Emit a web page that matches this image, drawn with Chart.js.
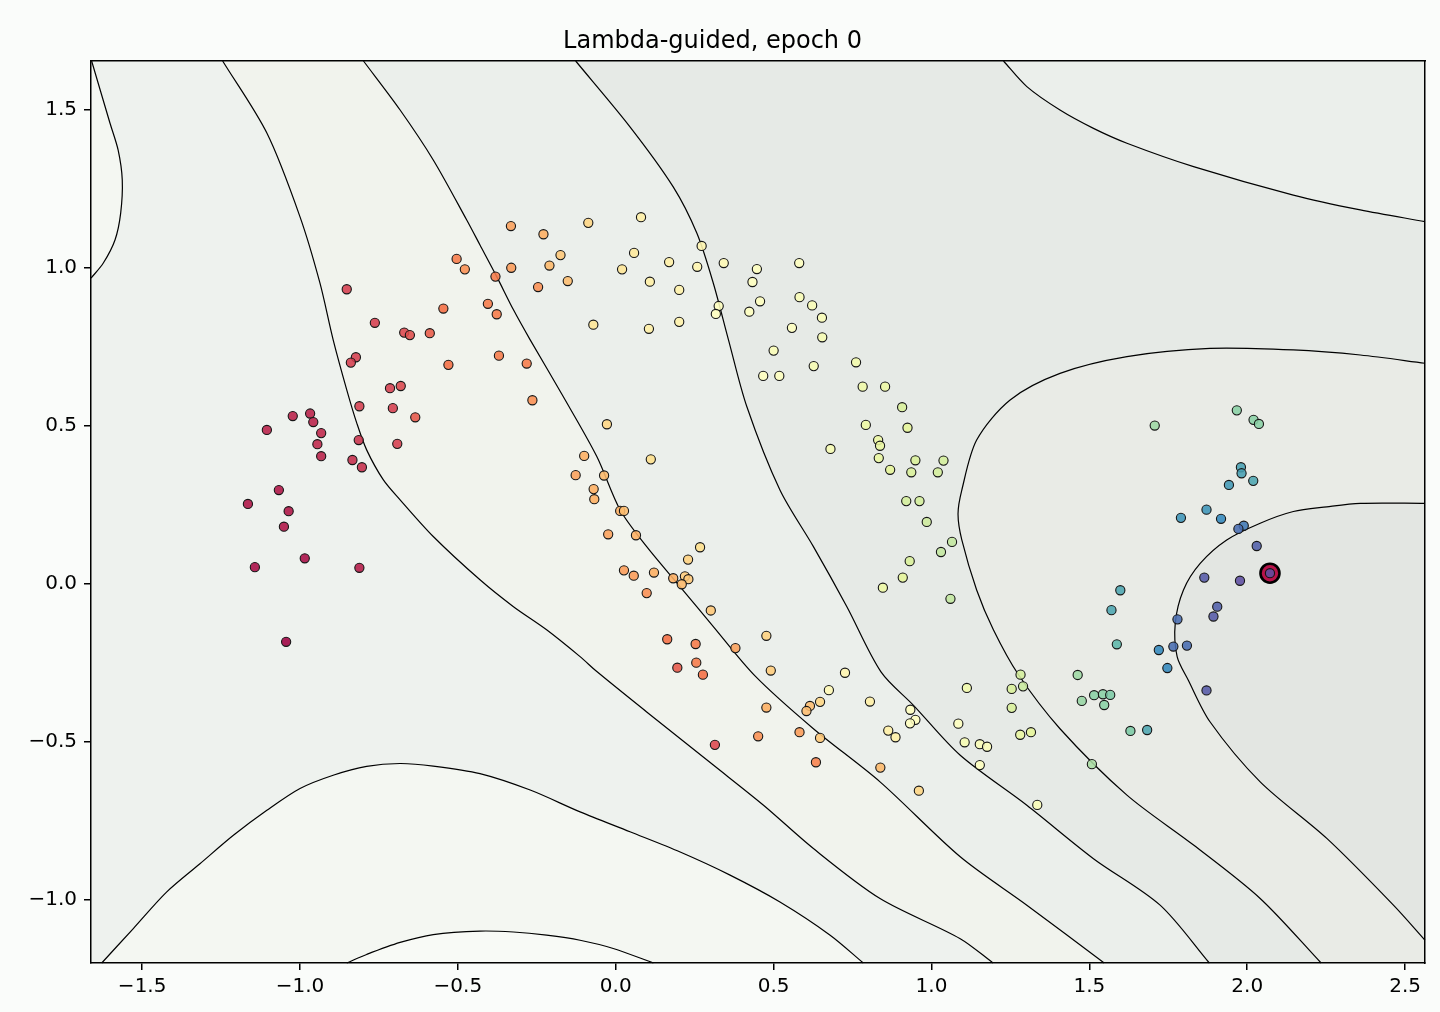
<!DOCTYPE html>
<html>
<head>
<meta charset="utf-8">
<script src="https://cdn.jsdelivr.net/npm/chart.js@4.4.1/dist/chart.umd.min.js"></script>
<style>
html,body{margin:0;padding:0;background:#fafcfa;}
canvas{display:block;}
</style>
</head>
<body>
<canvas id="c" width="1440" height="1012"></canvas>
<script>
// ---------------- data ----------------
const chartTitle = 'Lambda-guided, epoch 0';
const xTicks = [-1.5, -1.0, -0.5, 0.0, 0.5, 1.0, 1.5, 2.0, 2.5];
const yTicks = [-1.0, -0.5, 0.0, 0.5, 1.0, 1.5];
const xLimits = [-1.662, 2.563];
const yLimits = [-1.199, 1.654];

// scatter points: x, y, colour parameter (0..1 on Spectral)
const ptX = [
-0.823,-0.839,-0.530,-0.715,-0.681,-0.812,-0.706,-0.635,-1.023,-0.968,
-0.958,-1.105,-0.933,-0.945,-0.814,-0.692,-0.933,-0.834,-0.804,-1.067,
-1.165,-1.036,-1.051,-0.985,-1.143,-0.812,-1.044,-0.852,-0.763,-0.670,
-0.652,-0.589,-0.546,-0.504,-0.478,
-0.332,-0.229,-0.087,0.080,-0.175,-0.210,-0.331,-0.381,-0.246,-0.152,
0.058,0.020,0.169,0.108,0.201,0.258,0.272,0.342,0.447,0.433,
0.581,-0.405,-0.377,-0.071,0.105,0.201,0.326,0.317,0.423,0.457,
0.582,0.622,0.653,0.558,0.654,
0.500,0.467,0.518,0.627,0.761,0.782,0.853,0.907,0.792,0.924,
0.831,0.837,0.833,0.680,0.869,0.936,0.949,1.038,1.020,0.920,
0.962,0.985,1.065,1.030,0.931,0.909,0.846,1.060,
-0.370,-0.282,-0.264,-0.028,0.111,-0.100,-0.127,-0.037,-0.070,-0.068,
0.014,0.026,-0.024,0.064,0.267,0.229,0.026,0.057,0.121,0.182,
0.219,0.230,0.209,0.098,0.301,0.163,0.253,0.379,0.477,0.195,
0.255,0.276,0.491,0.726,
0.675,0.477,0.615,0.604,0.647,0.805,0.933,0.949,0.932,0.863,
0.886,0.451,0.582,0.647,0.314,0.634,0.838,0.960,1.085,
1.112,1.254,1.290,1.515,1.543,1.566,1.476,1.547,1.254,1.871,
1.105,1.153,1.176,1.281,1.315,1.630,1.683,1.153,1.508,1.335,
1.282,1.463,
1.967,1.707,2.020,2.037,1.980,1.982,1.942,2.019,1.871,1.790,
1.917,1.989,1.972,2.030,1.864,1.977,1.598,1.905,1.570,1.893,
1.779,1.587,1.720,1.766,1.809,1.747,2.072
];
const ptY = [
0.717,0.700,0.693,0.619,0.626,0.562,0.556,0.527,0.531,0.539,
0.512,0.487,0.477,0.442,0.455,0.443,0.404,0.392,0.369,0.297,
0.253,0.230,0.181,0.081,0.053,0.051,-0.183,0.932,0.826,0.795,
0.787,0.793,0.871,1.028,0.995,
1.132,1.106,1.142,1.160,1.040,1.007,1.000,0.972,0.939,0.958,
1.047,0.995,1.018,0.956,0.930,1.003,1.069,1.015,0.996,0.955,
1.015,0.886,0.853,0.820,0.807,0.829,0.879,0.854,0.861,0.894,
0.907,0.881,0.842,0.810,0.780,
0.738,0.658,0.658,0.689,0.701,0.624,0.624,0.559,0.503,0.494,
0.455,0.437,0.398,0.427,0.361,0.353,0.391,0.390,0.353,0.262,
0.262,0.196,0.133,0.101,0.072,0.020,-0.012,-0.047,
0.722,0.697,0.581,0.505,0.394,0.405,0.344,0.343,0.300,0.268,
0.231,0.231,0.157,0.154,0.116,0.077,0.043,0.026,0.036,0.018,
0.024,0.015,-0.001,-0.029,-0.084,-0.175,-0.190,-0.203,-0.164,-0.265,
-0.249,-0.287,-0.274,-0.281,
-0.336,-0.391,-0.386,-0.402,-0.373,-0.372,-0.398,-0.430,-0.441,-0.464,
-0.485,-0.482,-0.469,-0.487,-0.509,-0.564,-0.581,-0.654,-0.442,
-0.329,-0.332,-0.324,-0.352,-0.349,-0.351,-0.370,-0.383,-0.392,-0.337,
-0.501,-0.507,-0.515,-0.477,-0.469,-0.465,-0.462,-0.573,-0.570,-0.699,
-0.287,-0.288,
0.549,0.501,0.519,0.506,0.369,0.350,0.313,0.326,0.235,0.209,
0.206,0.184,0.174,0.120,0.020,0.010,-0.020,-0.072,-0.083,-0.103,
-0.112,-0.191,-0.209,-0.198,-0.195,-0.266,0.034
];
const ptT = [
.10,.10,.20,.10,.12,.10,.10,.15,.05,.05,
.05,.05,.06,.06,.08,.10,.05,.07,.07,.03,
.03,.03,.03,.02,.02,.04,.00,.10,.10,.12,
.13,.16,.20,.22,.25,
.28,.30,.38,.45,.35,.32,.27,.22,.25,.33,
.43,.42,.45,.45,.46,.47,.47,.48,.50,.50,
.50,.22,.22,.42,.45,.46,.50,.50,.50,.50,
.52,.52,.52,.50,.53,
.52,.50,.50,.53,.55,.56,.57,.62,.57,.60,
.57,.58,.58,.53,.60,.62,.62,.63,.63,.63,
.63,.64,.66,.66,.62,.60,.57,.66,
.22,.22,.25,.38,.40,.30,.28,.32,.30,.30,
.30,.33,.28,.30,.40,.37,.27,.27,.30,.30,
.36,.35,.32,.25,.35,.20,.22,.28,.37,.15,
.22,.20,.36,.47,
.48,.30,.33,.33,.38,.45,.50,.50,.50,.45,
.45,.25,.27,.35,.12,.23,.32,.38,.50,
.55,.62,.65,.75,.75,.77,.73,.75,.62,.98,
.53,.52,.52,.58,.60,.77,.85,.50,.70,.52,
.63,.72,
.75,.72,.75,.75,.86,.86,.87,.85,.88,.88,
.90,.93,.95,.97,.98,1.0,.85,.97,.85,.98,
.95,.82,.90,.95,.95,.90,1.0
];

// highlighted point
const markX = [2.072];
const markY = [0.034];

// contour lines [x, y]
const contourTopLeftArc = [[-1.660,1.654],[-1.602,1.458],[-1.576,1.372],[-1.563,1.278],[-1.568,1.173],[-1.586,1.088],[-1.623,1.015],[-1.662,0.967]];
const contourHump = [[-1.628,-1.199],[-1.528,-1.090],[-1.422,-0.974],[-1.317,-0.885],[-1.211,-0.795],[-1.105,-0.716],[-1.000,-0.647],[-0.895,-0.605],[-0.789,-0.577],[-0.683,-0.568],[-0.578,-0.576],[-0.430,-0.600],[-0.271,-0.652],[-0.113,-0.721],[0.045,-0.784],[0.204,-0.848],[0.362,-0.921],[0.520,-1.006],[0.679,-1.111],[0.784,-1.199]];
const contourBottomArc = [[-0.852,-1.199],[-0.789,-1.172],[-0.683,-1.134],[-0.578,-1.109],[-0.430,-1.098],[-0.324,-1.101],[-0.219,-1.111],[-0.113,-1.127],[-0.008,-1.153],[0.119,-1.199]];
const contourBand1 = [[-1.245,1.654],[-1.105,1.426],[-1.000,1.161],[-0.937,0.952],[-0.895,0.772],[-0.852,0.614],[-0.820,0.508],[-0.789,0.424],[-0.736,0.329],[-0.683,0.266],[-0.578,0.150],[-0.430,0.013],[-0.324,-0.072],[-0.219,-0.145],[-0.113,-0.230],[-0.059,-0.278],[0.098,-0.405],[0.309,-0.573],[0.468,-0.700],[0.626,-0.837],[0.837,-0.995],[1.091,-1.122],[1.195,-1.199]];
const contourBand2 = [[-0.799,1.654],[-0.683,1.499],[-0.578,1.341],[-0.472,1.151],[-0.430,1.072],[-0.377,0.972],[-0.324,0.867],[-0.271,0.772],[-0.166,0.592],[-0.060,0.403],[0.014,0.234],[0.098,0.118],[0.204,-0.009],[0.309,-0.135],[0.441,-0.291],[0.626,-0.458],[0.837,-0.626],[1.091,-0.863],[1.302,-1.016],[1.547,-1.199]];
const contourBand3 = [[-0.127,1.654],[0.045,1.446],[0.182,1.256],[0.257,1.109],[0.309,0.951],[0.357,0.772],[0.415,0.561],[0.520,0.297],[0.626,0.118],[0.732,-0.072],[0.840,-0.278],[0.943,-0.384],[1.091,-0.542],[1.302,-0.700],[1.513,-0.869],[1.724,-1.016],[1.880,-1.199]];
const contourTopRight = [[1.228,1.654],[1.302,1.573],[1.407,1.499],[1.513,1.441],[1.619,1.394],[1.830,1.320],[2.146,1.230],[2.358,1.183],[2.563,1.146]];
const contourOuterLoop = [[2.563,0.698],[2.358,0.724],[2.146,0.740],[1.882,0.745],[1.619,0.719],[1.407,0.666],[1.249,0.582],[1.143,0.455],[1.096,0.297],[1.084,0.221],[1.096,0.139],[1.143,-0.019],[1.196,-0.145],[1.274,-0.285],[1.407,-0.458],[1.619,-0.668],[1.830,-0.826],[2.041,-0.995],[2.234,-1.199]];
const contourInnerLoop = [[2.563,0.255],[2.358,0.255],[2.252,0.244],[2.146,0.229],[2.041,0.192],[1.935,0.139],[1.851,0.065],[1.798,-0.019],[1.772,-0.124],[1.778,-0.230],[1.813,-0.304],[1.882,-0.436],[2.041,-0.626],[2.252,-0.805],[2.463,-1.016],[2.563,-1.127]];

// ---------------- styling ----------------
const FONT = "'DejaVu Sans', 'Liberation Sans', sans-serif";
const regionColors = {
  base: '#eef2ee', r0: '#f8faf6', r1: '#f4f7f2', r3: '#f1f3ed',
  r4: '#ebefeb', r5: '#e6eae6', r6: '#e9ebe6', r7: '#e3e6e2'
};
const spectralStops = ['#9e0142','#d53e4f','#f46d43','#fdae61','#fee08b','#ffffbf','#e6f598','#abdda4','#66c2a5','#3288bd','#5e4fa2'];
function hexToRgb(h){ return [parseInt(h.slice(1,3),16),parseInt(h.slice(3,5),16),parseInt(h.slice(5,7),16)]; }
function spectral(t, a){
  t = Math.max(0, Math.min(1, t));
  const p = t * (spectralStops.length - 1);
  const i = Math.min(Math.floor(p), spectralStops.length - 2);
  const f = p - i;
  const c0 = hexToRgb(spectralStops[i]), c1 = hexToRgb(spectralStops[i+1]);
  const c = c0.map((v,k)=>Math.round(v + (c1[k]-v)*f));
  return `rgba(${c[0]},${c[1]},${c[2]},${a})`;
}

// polygons built from contour lines and the outside of the axes
const OX0 = xLimits[0]-0.3, OX1 = xLimits[1]+0.3, OY0 = yLimits[0]-0.3, OY1 = yLimits[1]+0.3;
const P = a => a.map(([x,y]) => ({x, y}));
const first = a => a[0], last = a => a[a.length-1];
function rightOfBand(l){ return P(l).concat([{x:last(l)[0],y:OY0},{x:OX1,y:OY0},{x:OX1,y:OY1},{x:first(l)[0],y:OY1}]); }
function aboveTopRight(l){ return P(l).concat([{x:OX1,y:last(l)[1]},{x:OX1,y:OY1},{x:first(l)[0],y:OY1}]); }
function insideOuterLoop(l){ return P(l).concat([{x:last(l)[0],y:OY0},{x:OX1,y:OY0},{x:OX1,y:first(l)[1]}]); }
function insideInnerLoop(l){ return P(l).concat([{x:OX1,y:last(l)[1]},{x:OX1,y:first(l)[1]}]); }
function aboveBottom(l){ return P(l).concat([{x:last(l)[0],y:OY0},{x:first(l)[0],y:OY0}]); }
function insideLeft(l){ return P(l).concat([{x:OX0,y:last(l)[1]},{x:OX0,y:OY1},{x:first(l)[0],y:OY1}]); }

let ord = 1000;
function fillSet(data, color){
  return {type:'line', data, fill:'shape', backgroundColor:color, borderColor:'rgba(0,0,0,0)', borderWidth:0.01,
          pointRadius:0, tension:0, order:ord--, clip:0};
}
function lineSet(arr){
  return {type:'line', data:P(arr), fill:false, borderColor:'#000', borderWidth:1.2, pointRadius:0,
          tension:0.3, order:100, clip:1};
}

const datasets = [
  fillSet(rightOfBand(contourBand1), regionColors.r3),
  fillSet(rightOfBand(contourBand2), regionColors.r4),
  fillSet(rightOfBand(contourBand3), regionColors.r5),
  fillSet(aboveTopRight(contourTopRight), regionColors.r4),
  fillSet(insideOuterLoop(contourOuterLoop), regionColors.r6),
  fillSet(insideInnerLoop(contourInnerLoop), regionColors.r7),
  fillSet(aboveBottom(contourHump), regionColors.r1),
  fillSet(aboveBottom(contourBottomArc), regionColors.r0),
  fillSet(insideLeft(contourTopLeftArc), regionColors.r1),
  lineSet(contourTopLeftArc), lineSet(contourHump), lineSet(contourBottomArc),
  lineSet(contourBand1), lineSet(contourBand2), lineSet(contourBand3),
  lineSet(contourTopRight), lineSet(contourOuterLoop), lineSet(contourInnerLoop),
  {type:'line', data: markX.map((x,i)=>({x, y:markY[i]})), showLine:false, pointRadius:9.5,
   pointBackgroundColor:'#b8134a', pointBorderColor:'#000', pointBorderWidth:2.6, order:20},
  {type:'line', data: ptX.map((x,i)=>({x, y:ptY[i]})), showLine:false, pointRadius:4.6,
   pointBackgroundColor: ptT.map(t=>spectral(t,0.88)), pointBorderColor:'#151515', pointBorderWidth:1.1, order:10}
];

const fmt = v => (v < 0 ? '\u2212' : '') + Math.abs(v).toFixed(1);

const areaBg = {
  id:'areaBg',
  beforeDatasetsDraw(chart){
    const {ctx, chartArea:a} = chart;
    ctx.save(); ctx.fillStyle = regionColors.base;
    ctx.fillRect(a.left, a.top, a.right-a.left, a.bottom-a.top); ctx.restore();
  }
};

new Chart(document.getElementById('c'), {
  type:'line',
  data:{datasets},
  plugins:[areaBg],
  options:{
    responsive:false, animation:false, events:[], devicePixelRatio:1,
    layout:{padding:{left:0,right:15,top:0,bottom:0}},
    plugins:{
      legend:{display:false}, tooltip:{enabled:false},
      title:{display:true, text:chartTitle, color:'#000', font:{family:FONT, size:24, weight:'normal', lineHeight:1.2}, padding:{top:27, bottom:5.2}}
    },
    scales:{
      x:{type:'linear', position:'bottom', min:xLimits[0], max:xLimits[1],
         afterBuildTicks:s=>{s.ticks = xTicks.map(v=>({value:v}));},
         afterFit:s=>{s.height = 49;},
         ticks:{callback:fmt, color:'#000', font:{family:FONT, size:20}, padding:5, autoSkip:false, maxRotation:0},
         grid:{drawOnChartArea:false, drawTicks:true, tickLength:7, lineWidth:1.5, color:'#000'},
         border:{display:true, color:'#000', width:1.5, z:1}},
      y:{type:'linear', position:'left', min:yLimits[0], max:yLimits[1],
         afterBuildTicks:s=>{s.ticks = yTicks.map(v=>({value:v}));},
         afterFit:s=>{s.width = 91;},
         ticks:{callback:fmt, color:'#000', font:{family:FONT, size:20}, padding:7, autoSkip:false},
         grid:{drawOnChartArea:false, drawTicks:true, tickLength:7, lineWidth:1.5, color:'#000'},
         border:{display:true, color:'#000', width:1.5, z:1}},
      x2:{type:'linear', position:'top', min:xLimits[0], max:xLimits[1],
         afterFit:s=>{s.height = 0;}, ticks:{display:false},
         grid:{drawOnChartArea:false, drawTicks:false},
         border:{display:true, color:'#000', width:1.5, z:1}},
      y2:{type:'linear', position:'right', min:yLimits[0], max:yLimits[1],
         afterFit:s=>{s.width = 0;}, ticks:{display:false},
         grid:{drawOnChartArea:false, drawTicks:false},
         border:{display:true, color:'#000', width:1.5, z:1}}
    }
  }
});
</script>
</body>
</html>
